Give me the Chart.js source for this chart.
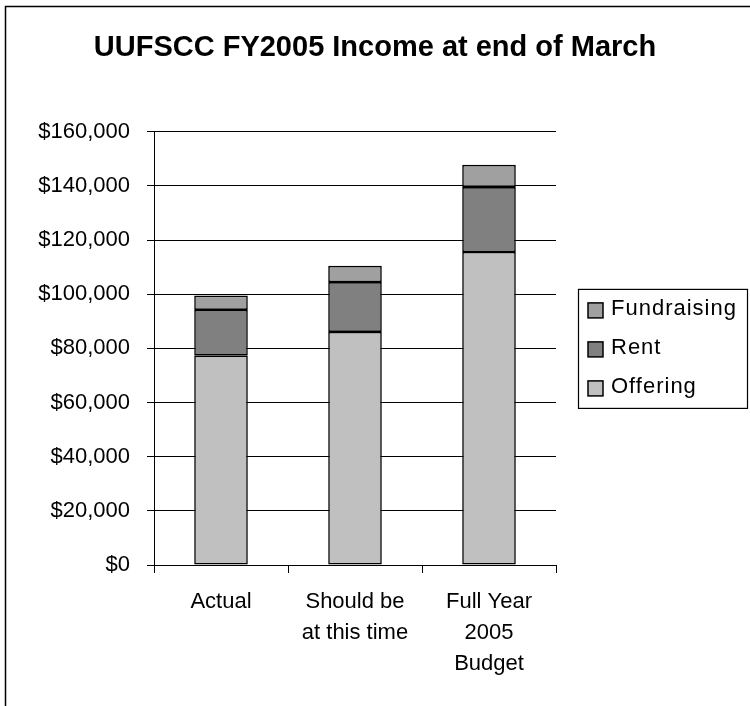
<!DOCTYPE html>
<html>
<head>
<meta charset="utf-8">
<script src="https://cdn.jsdelivr.net/npm/chart.js@4"></script>
<style>
  html, body { margin: 0; padding: 0; background: #fff; }
  #wrap { position: relative; width: 750px; height: 706px; }
</style>
</head>
<body>
<div id="wrap"><canvas id="c" width="750" height="706"></canvas></div>
<script>
const categories = ['Actual', ['Should be', 'at this time'], ['Full Year', '2005', 'Budget']];
const offering = [77300, 86100, 115600];
const rent = [16900, 18400, 24000];
const fundraising = [5300, 6000, 8200];
const seriesNames = ['Offering', 'Rent', 'Fundraising'];
const yTickMin = 0, yTickMax = 160000, yTickStep = 20000;

Chart.defaults.font.family = "'Liberation Sans', Arial, sans-serif";
Chart.defaults.color = '#000';

const framePlugin = {
  id: 'frame',
  beforeDraw(chart) {
    const ctx = chart.ctx;
    ctx.save();
    ctx.fillStyle = '#fff';
    ctx.fillRect(0, 0, chart.width, chart.height);
    ctx.strokeStyle = '#000';
    ctx.lineWidth = 1.5;
    ctx.beginPath();
    ctx.moveTo(5.5, chart.height + 2);
    ctx.lineTo(5.5, 6.5);
    ctx.lineTo(chart.width + 2, 6.5);
    ctx.stroke();
    ctx.restore();
  }
};

const boxLegend = {
  id: 'boxLegend',
  afterDraw(chart) {
    const ctx = chart.ctx;
    const area = chart.chartArea;
    const ds = chart.data.datasets.slice().reverse();
    const left = area.right + 22;
    const rowH = 39;
    const boxH = 119;
    const top = (area.top + area.bottom) / 2 - boxH / 2;
    ctx.save();
    ctx.fillStyle = '#fff';
    ctx.fillRect(left, top, 169, boxH);
    ctx.strokeStyle = '#000';
    ctx.lineWidth = 1.2;
    ctx.strokeRect(left + 0.5, top + 0.5, 169, boxH);
    ctx.font = "22px 'Liberation Sans', Arial, sans-serif";
    if ('letterSpacing' in ctx) ctx.letterSpacing = '1px';
    ctx.textBaseline = 'middle';
    ctx.textAlign = 'left';
    const midY = (area.top + area.bottom) / 2;
    ds.forEach((d, i) => {
      const cy = midY + (i - 1) * rowH + 1;
      ctx.fillStyle = d.backgroundColor;
      ctx.fillRect(left + 10, cy - 7.5, 15, 15);
      ctx.strokeStyle = '#000';
      ctx.lineWidth = 1.5;
      ctx.strokeRect(left + 10, cy - 7.5, 15, 15);
      ctx.fillStyle = '#000';
      ctx.fillText(d.label, left + 33, cy - 1);
    });
    ctx.restore();
  }
};

new Chart(document.getElementById('c'), {
  type: 'bar',
  data: {
    labels: categories,
    datasets: [
      { label: seriesNames[0], data: offering, backgroundColor: '#c0c0c0' },
      { label: seriesNames[1], data: rent, backgroundColor: '#808080' },
      { label: seriesNames[2], data: fundraising, backgroundColor: '#a0a0a0' }
    ].map(d => Object.assign(d, { borderColor: '#000', borderWidth: 1.6, borderSkipped: false, barPercentage: 0.4, categoryPercentage: 1.0 }))
  },
  options: {
    responsive: false,
    animation: false,
    devicePixelRatio: 1,
    layout: { padding: 0 },
    plugins: {
      legend: { display: false },
      tooltip: { enabled: false },
      title: {
        display: true,
        text: 'UUFSCC FY2005 Income at end of March',
        font: { size: 29, weight: 'bold' },
        color: '#000',
        padding: { top: 31, bottom: 66 }
      }
    },
    scales: {
      x: {
        stacked: true,
        grid: { display: true, drawOnChartArea: false, offset: true, color: '#000', tickLength: 8, lineWidth: 1 },
        border: { display: true, color: '#000', width: 1 },
        ticks: { font: { size: 22, lineHeight: 1.41 }, padding: 13, maxRotation: 0, autoSkip: false, color: '#000' },
        afterFit(scale) { scale.height = 141; }
      },
      y: {
        stacked: true,
        min: yTickMin,
        max: yTickMax,
        grid: { color: '#000', lineWidth: 1, tickLength: 7 },
        border: { display: true, color: '#000', width: 1 },
        ticks: {
          stepSize: yTickStep,
          font: { size: 22 },
          padding: 17,
          color: '#000',
          callback: v => '$' + Number(v).toLocaleString('en-US')
        },
        afterFit(scale) { scale.width = 154; }
      },
      legendSpace: {
        type: 'linear',
        position: 'right',
        display: true,
        grid: { display: false, drawOnChartArea: false },
        border: { display: false },
        ticks: { display: false },
        afterFit(scale) { scale.width = 194; }
      }
    }
  },
  plugins: [framePlugin, boxLegend]
});
</script>
</body>
</html>
